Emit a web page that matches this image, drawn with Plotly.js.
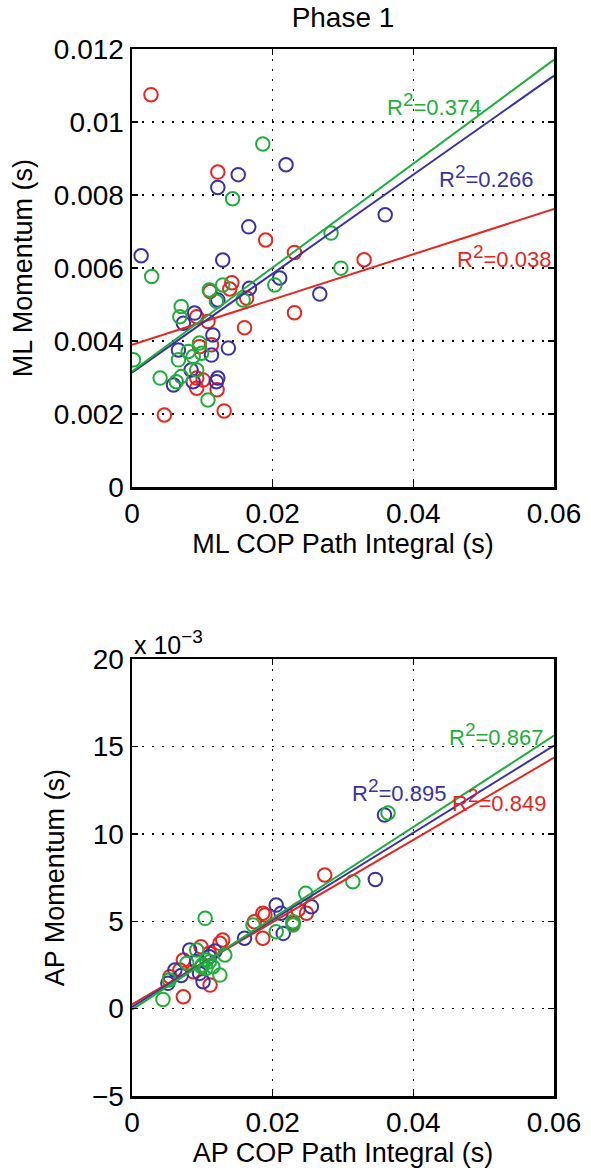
<!DOCTYPE html>
<html>
<head>
<meta charset="utf-8">
<script src="https://cdn.plot.ly/plotly-3.0.1.min.js"></script>
<style>html,body{margin:0;padding:0;background:#fff;}#chart{width:591px;height:1171px;}</style>
</head>
<body>
<div id="chart"></div>
<script>
// ---------- Phase 1: ML (top panel) ----------
const mlRedX = [0.0027, 0.0122, 0.0190, 0.0231, 0.0330, 0.0231, 0.0160, 0.0046, 0.0131, 0.0142, 0.0139, 0.0111, 0.0163, 0.0092, 0.0108, 0.0113, 0.0096, 0.0092, 0.0101, 0.0092, 0.0121];
const mlRedY = [0.01075, 0.00863, 0.00677, 0.00643, 0.00623, 0.00478, 0.00437, 0.00198, 0.00209, 0.00560, 0.00543, 0.00536, 0.00518, 0.00467, 0.00454, 0.00390, 0.00385, 0.00299, 0.00294, 0.00271, 0.00267];
const mlBlueX = [0.0013, 0.0122, 0.0151, 0.0219, 0.0166, 0.0129, 0.0360, 0.0267, 0.0210, 0.0167, 0.0122, 0.0089, 0.0073, 0.0115, 0.0137, 0.0066, 0.0113, 0.0084, 0.0122, 0.0120, 0.0059, 0.0087];
const mlBlueY = [0.00634, 0.00821, 0.00856, 0.00883, 0.00713, 0.00622, 0.00746, 0.00529, 0.00573, 0.00545, 0.00513, 0.00477, 0.00449, 0.00417, 0.00381, 0.00376, 0.00362, 0.00321, 0.00299, 0.00289, 0.00280, 0.00289];
const mlGreenX = [0.0186, 0.0143, 0.0283, 0.0297, 0.0028, 0.0203, 0.0129, 0.0110, 0.0120, 0.0158, 0.0070, 0.0068, 0.0096, 0.0080, 0.0087, 0.0066, 0.0092, 0.0002, 0.0040, 0.0070, 0.0063, 0.0108, 0.0099];
const mlGreenY = [0.00940, 0.00790, 0.00696, 0.00600, 0.00577, 0.00554, 0.00554, 0.00540, 0.00509, 0.00513, 0.00495, 0.00467, 0.00395, 0.00372, 0.00358, 0.00349, 0.00321, 0.00349, 0.00299, 0.00303, 0.00289, 0.00239, 0.00367];
// fit lines [red, blue, green]
const mlFitIntercept = [0.00390, 0.00314, 0.00317];
const mlFitSlope = [0.0620, 0.1355, 0.1423];
const mlR2 = ["0.038", "0.266", "0.374"];

// ---------- AP (bottom panel), momentum in units of 10^-3 s ----------
const apRedX = [0.0274, 0.0248, 0.0189, 0.0174, 0.0229, 0.0186, 0.0236, 0.0186, 0.0073, 0.0111, 0.0068, 0.0073, 0.0098, 0.0125, 0.0129, 0.0110, 0.0087, 0.0054];
const apRedY = [7.65, 5.46, 5.36, 4.98, 4.88, 4.03, 5.65, 5.46, 0.68, 1.35, 2.21, 2.78, 3.55, 3.74, 3.93, 3.17, 2.11, 1.83];
const apBlueX = [0.0359, 0.0346, 0.0255, 0.0205, 0.0212, 0.0215, 0.0160, 0.0101, 0.0051, 0.0061, 0.0082, 0.0096, 0.0110, 0.0092, 0.0070, 0.0118];
const apBlueY = [11.09, 7.40, 5.84, 5.93, 5.46, 4.31, 4.03, 1.54, 1.45, 2.21, 3.36, 2.02, 2.97, 2.69, 1.90, 3.30];
const apGreenX = [0.0364, 0.0314, 0.0247, 0.0172, 0.0229, 0.0205, 0.0104, 0.0229, 0.0044, 0.0125, 0.0053, 0.0132, 0.0092, 0.0106, 0.0115, 0.0099, 0.0078, 0.0110, 0.0100, 0.0105];
const apGreenY = [11.20, 7.27, 6.60, 4.79, 4.79, 4.40, 5.17, 4.98, 0.53, 1.92, 1.64, 3.07, 3.36, 2.78, 2.40, 2.40, 2.60, 2.69, 2.50, 2.30];
const apFitIntercept = [0.25, 0.10, -0.05];
const apFitSlope = [235.3, 249.3, 261.3];
const apR2 = ["0.849", "0.895", "0.867"];

// ticks
const xTickVals = [0, 0.02, 0.04, 0.06];
const xTickText = ["0", "0.02", "0.04", "0.06"];
const mlTickVals = [0, 0.002, 0.004, 0.006, 0.008, 0.01, 0.012];
const mlTickText = ["0", "0.002", "0.004", "0.006", "0.008", "0.01", "0.012"];
const apTickVals = [-5, 0, 5, 10, 15, 20];
const apTickText = ["\u22125", "0", "5", "10", "15", "20"];

const colors = ["#e8251e", "#3a31a8", "#1fae3c"];
const FONT = "Liberation Sans, Arial, Helvetica, sans-serif";

function pts(x, y, c, xa, ya) {
  return {x: x, y: y, xaxis: xa, yaxis: ya, type: "scatter", mode: "markers",
    marker: {symbol: "circle-open", size: 13.5, color: c, line: {width: 2, color: c}},
    hoverinfo: "skip", showlegend: false};
}
function fit(b, m, c, xa, ya) {
  const xs = [0, 0.06];
  return {x: xs, y: xs.map(v => b + m * v), xaxis: xa, yaxis: ya, type: "scatter", mode: "lines",
    line: {color: c, width: 2}, hoverinfo: "skip", showlegend: false};
}

const traces = [
  pts(mlRedX, mlRedY, colors[0], "x", "y"),
  pts(mlBlueX, mlBlueY, colors[1], "x", "y"),
  pts(mlGreenX, mlGreenY, colors[2], "x", "y"),
  fit(mlFitIntercept[0], mlFitSlope[0], colors[0], "x", "y"),
  fit(mlFitIntercept[1], mlFitSlope[1], colors[1], "x", "y"),
  fit(mlFitIntercept[2], mlFitSlope[2], colors[2], "x", "y"),
  pts(apRedX, apRedY, colors[0], "x2", "y2"),
  pts(apBlueX, apBlueY, colors[1], "x2", "y2"),
  pts(apGreenX, apGreenY, colors[2], "x2", "y2"),
  fit(apFitIntercept[0], apFitSlope[0], colors[0], "x2", "y2"),
  fit(apFitIntercept[1], apFitSlope[1], colors[1], "x2", "y2"),
  fit(apFitIntercept[2], apFitSlope[2], colors[2], "x2", "y2")
];

function axisCommon() {
  return {
    showline: true, linecolor: "#000", linewidth: 2.5, mirror: "ticks",
    ticks: "inside", ticklen: 6, tickwidth: 1.5, tickcolor: "#000",
    showgrid: true, gridcolor: "#000", gridwidth: 1.5, griddash: "2px,8px",
    zeroline: false, tickfont: {family: FONT, size: 28, color: "#000"},
    fixedrange: true
  };
}
const titleFont = {family: FONT, size: 27, color: "#000"};

const xa1 = Object.assign(axisCommon(), {domain: [0, 1], range: [0, 0.06], anchor: "y",
  tickmode: "array", tickvals: xTickVals, ticktext: xTickText,
  title: {text: "ML COP Path Integral (s)", font: titleFont, standoff: 4}});
const ya1 = Object.assign(axisCommon(), {domain: [0.5814, 1], range: [0, 0.012], anchor: "x",
  tickmode: "array", tickvals: mlTickVals, ticktext: mlTickText,
  title: {text: "ML Momentum (s)", font: titleFont, standoff: 14}});
const xa2 = Object.assign(axisCommon(), {domain: [0, 1], range: [0, 0.06], anchor: "y2",
  tickmode: "array", tickvals: xTickVals, ticktext: xTickText,
  title: {text: "AP COP Path Integral (s)", font: titleFont, standoff: 6}});
const ya2 = Object.assign(axisCommon(), {domain: [0, 0.4171], range: [-5, 20], anchor: "x2",
  tickmode: "array", tickvals: apTickVals, ticktext: apTickText,
  title: {text: "AP Momentum (s)", font: titleFont, standoff: 20}});

function r2(txt, x, y, c, xa, ya) {
  return {text: "R<sup><span style='font-size:19px'>2</span></sup>=" + txt, x: x, y: y, xref: xa, yref: ya, showarrow: false,
    xanchor: "center", yanchor: "middle", font: {family: FONT, size: 22, color: c}};
}

const annotations = [
  r2(mlR2[0], 0.0529, 0.00632, colors[0], "x", "y"),
  r2(mlR2[1], 0.0503, 0.00851, colors[1], "x", "y"),
  r2(mlR2[2], 0.0430, 0.01047, colors[2], "x", "y"),
  r2(apR2[0], 0.0522, 11.94, colors[0], "x2", "y2"),
  r2(apR2[1], 0.0380, 12.50, colors[1], "x2", "y2"),
  r2(apR2[2], 0.0517, 15.67, colors[2], "x2", "y2"),
  {text: "x 10<sup><span style='font-size:19px'>\u22123</span></sup>", xref: "paper", yref: "paper", x: 0, y: 0.4336,
    xanchor: "left", yanchor: "middle", showarrow: false,
    font: {family: FONT, size: 25, color: "#000"}}
];

const layout = {
  width: 591, height: 1171,
  margin: {l: 132, r: 37, t: 49, b: 75, pad: 0},
  paper_bgcolor: "#fff", plot_bgcolor: "#fff",
  showlegend: false,
  title: {text: "Phase 1", x: 0.5, xanchor: "center", xref: "paper", y: 0.985, yanchor: "middle",
    font: {family: FONT, size: 28, color: "#000"}},
  xaxis: xa1, yaxis: ya1, xaxis2: xa2, yaxis2: ya2,
  annotations: annotations
};

Plotly.newPlot("chart", traces, layout, {staticPlot: true, displayModeBar: false});
</script>
</body>
</html>
